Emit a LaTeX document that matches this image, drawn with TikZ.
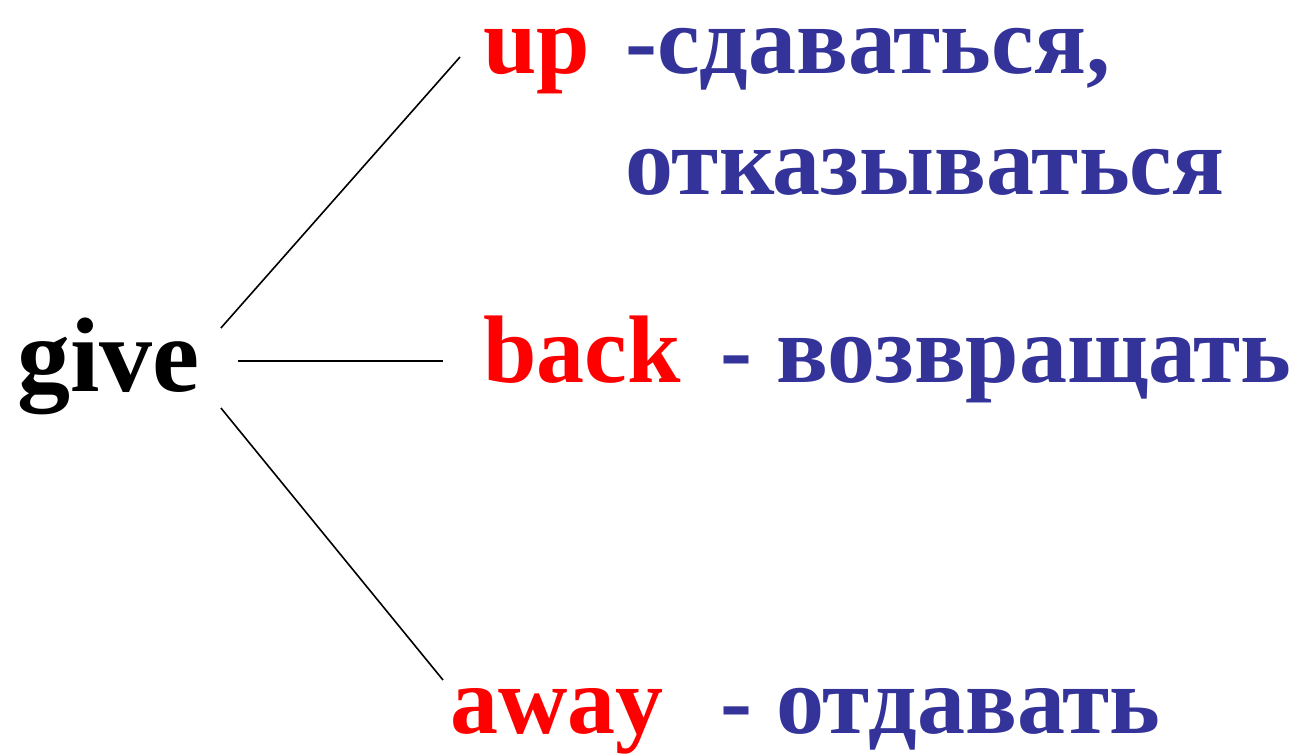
\documentclass[tikz,border=0pt]{standalone}
\usepackage{fontspec}
\setmainfont{Liberation Serif}
\usepackage{tikz}
\usetikzlibrary{calc}
\definecolor{wordred}{RGB}{255,0,0}
\definecolor{wordblue}{RGB}{51,51,153}

\tikzset{
    word/.style={anchor=base west,inner sep=0pt,font=\fontsize{96}{100}\bfseries\selectfont},
    verb/.style={word,text=black,font=\fontsize{106}{110}\bfseries\selectfont},
    part/.style={word,text=wordred},
    trans/.style={word,text=wordblue},
    branch/.style={line width=1.6pt,black}
}

\begin{document}
\begin{tikzpicture}[x=1pt,y=1pt]
    \useasboundingbox (0,0) rectangle (1292,753);

    % verb and particles
    \node[verb] (give) at (17,361) {give};
    \node[part,text height=50pt] (up) at (483,679) {up};
    \node[part] (back) at (483,370) {back};
    \node[part] (away) at (450,20) {away};

    % translations
    \node[trans,text height=50pt] (tup) at (625,679) {-сдаваться,};
    \node[trans] (tup2) at (625,558) {отказываться};
    \node[trans] (tback) at (720,370) {- возвращать};
    \node[trans] (taway) at (720,20) {- отдавать};

    % Draw branches
    \coordinate (g1) at ($(give.base east)+(21,64)$);
    \coordinate (g2) at ($(give.base east)+(38,31)$);
    \coordinate (g3) at ($(give.base east)+(21,-16)$);

    \draw[branch] (g1) -- ($(up.base west)+(-23,17)$);
    \draw[branch] (g2) -- ($(back.base west)+(-40,22)$);
    \draw[branch] (g3) -- ($(away.base west)+(-7,53)$);

\end{tikzpicture}
\end{document}
